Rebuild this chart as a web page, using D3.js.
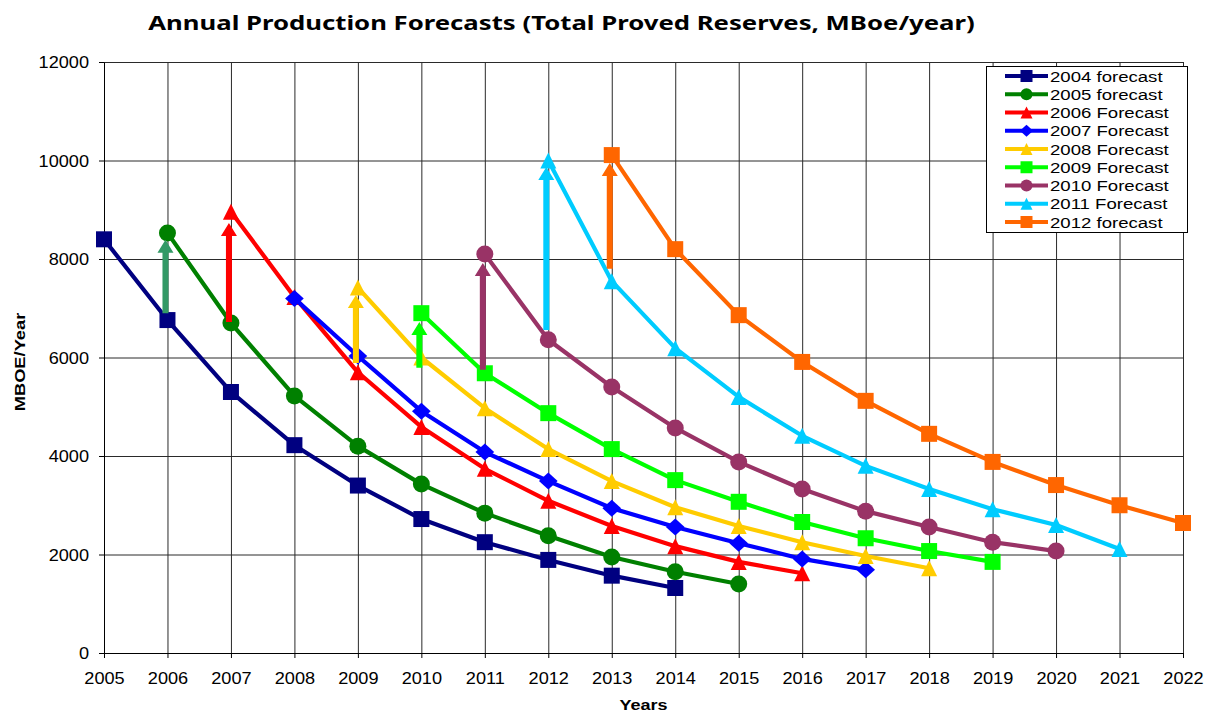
<!DOCTYPE html>
<html>
<head>
<meta charset="utf-8">
<script src="https://cdn.jsdelivr.net/npm/d3@7"></script>
<style>
  body { margin: 0; background: #fff; }
  svg { display: block; }
  text { font-family: "Liberation Sans", Arial, sans-serif; fill: #000; }
</style>
</head>
<body>
<svg id="chart" width="1206" height="712"></svg>
<script>
// ---- data -------------------------------------------------------------
const yearLabels = ["2005","2006","2007","2008","2009","2010","2011","2012","2013",
                    "2014","2015","2016","2017","2018","2019","2020","2021","2022"];
const valueTicks = [0, 2000, 4000, 6000, 8000, 10000, 12000];

const seriesNames  = ["2004 forecast","2005 forecast","2006 Forecast","2007 Forecast",
                      "2008 Forecast","2009 Forecast","2010 Forecast","2011 Forecast","2012 forecast"];
const seriesStart  = [2005, 2006, 2007, 2008, 2009, 2010, 2011, 2012, 2013];
const seriesColors = ["#000080","#008000","#ff0000","#0000ff","#ffcc00","#00ff00","#993366","#00ccff","#ff6600"];
const seriesShapes = ["square","circle","triangle","diamond","triangle","square","circle","triangle","square"];

const forecast2004 = [8400, 6760, 5300, 4220, 3400, 2720, 2250, 1890, 1570, 1320];
const forecast2005 = [8530, 6700, 5220, 4200, 3430, 2840, 2380, 1950, 1650, 1400];
const forecast2006 = [8960, 7230, 5700, 4590, 3740, 3090, 2580, 2170, 1850, 1620];
const forecast2007 = [7200, 6030, 4910, 4080, 3490, 2940, 2560, 2230, 1910, 1690];
const forecast2008 = [7420, 6000, 4970, 4140, 3490, 2960, 2580, 2250, 1970, 1720];
const forecast2009 = [6900, 5680, 4870, 4140, 3510, 3070, 2660, 2330, 2070, 1850];
const forecast2010 = [8100, 6360, 5400, 4570, 3880, 3330, 2880, 2560, 2250, 2070];
const forecast2011 = [10000, 7550, 6190, 5200, 4410, 3800, 3330, 2920, 2600, 2110];
const forecast2012 = [10110, 8200, 6860, 5910, 5120, 4450, 3880, 3410, 3000, 2640];
const seriesValues = [forecast2004, forecast2005, forecast2006, forecast2007, forecast2008,
                      forecast2009, forecast2010, forecast2011, forecast2012];

// upward revision arrows: year, value at the tail, value at the tip
const arrowYears  = [2006, 2007, 2009, 2010, 2011, 2012, 2013];
const arrowFrom   = [6900, 6720, 5890, 5790, 5750, 6560, 7800];
const arrowTo     = [8390, 8730, 7270, 6720, 7920, 9870, 9950];
const arrowColors = ["#339966","#ff0000","#ffcc00","#00ff00","#993366","#00ccff","#ff6600"];

// ---- layout -----------------------------------------------------------
const svg = d3.select("#chart");
const plot = { left: 104, right: 1183, top: 62, bottom: 653 };

const x = d3.scalePoint().domain(yearLabels).range([plot.left, plot.right]).padding(0);
const y = d3.scaleLinear().domain([0, 12000]).range([plot.bottom, plot.top]);
const xs = yr => x(String(yr));

// ---- gridlines --------------------------------------------------------
const gridColor = "#2a2a2a";
svg.append("g")
  .attr("transform", `translate(${plot.left},0)`)
  .call(d3.axisLeft(y).tickValues(valueTicks.slice(1)).tickSize(-(plot.right - plot.left)).tickFormat(""))
  .call(g => g.select(".domain").remove())
  .call(g => g.selectAll("line").attr("stroke", gridColor));

svg.append("g")
  .attr("transform", `translate(0,${plot.bottom})`)
  .call(d3.axisBottom(x).tickValues(yearLabels.slice(1)).tickSize(-(plot.bottom - plot.top)).tickFormat(""))
  .call(g => g.select(".domain").remove())
  .call(g => g.selectAll("line").attr("stroke", gridColor));

// ---- axes -------------------------------------------------------------
const yAxis = svg.append("g")
  .attr("transform", `translate(${plot.left},0)`)
  .call(d3.axisLeft(y).tickValues(valueTicks).tickFormat(d3.format("d"))
    .tickSize(5).tickSizeOuter(0).tickPadding(10));
yAxis.selectAll("path, line").attr("stroke", "#000");
yAxis.selectAll("text")
  .attr("font-size", 16.5).attr("font-family", "Liberation Sans, Arial, sans-serif")
  .attr("x", -15 / 1.1).attr("dy", "0.36em")
  .attr("transform", "scale(1.1,1)");

const xAxis = svg.append("g")
  .attr("transform", `translate(0,${plot.bottom})`)
  .call(d3.axisBottom(x).tickSize(5).tickSizeOuter(0).tickPadding(14));
xAxis.selectAll("path, line").attr("stroke", "#000");
xAxis.selectAll("text")
  .attr("font-size", 16.5).attr("font-family", "Liberation Sans, Arial, sans-serif")
  .attr("transform", "scale(1.1,1)");
xAxis.selectAll(".tick").each(function (d) {
  d3.select(this).attr("transform", `translate(${x(d) + 0.5},0)`);
});

// ---- markers ----------------------------------------------------------
function markerPath(shape, s) {
  const h = s / 2;
  switch (shape) {
    case "square":   return `M${-h},${-h}h${s}v${s}h${-s}Z`;
    case "triangle": return `M0,${-h}L${h},${h}L${-h},${h}Z`;
    case "diamond":  return `M0,${-h}L${h * 1.1},0L0,${h}L${-h * 1.1},0Z`;
    default:         return `M${h},0A${h},${h} 0 1,1 ${-h},0A${h},${h} 0 1,1 ${h},0Z`;
  }
}
const markerSize = { square: 16, circle: 17, triangle: 16, diamond: 17 };

// ---- series -----------------------------------------------------------
const series = seriesNames.map((name, i) => ({
  name,
  color: seriesColors[i],
  shape: seriesShapes[i],
  points: seriesValues[i].map((v, j) => ({ year: seriesStart[i] + j, value: v }))
}));

const line = d3.line().x(d => xs(d.year)).y(d => y(d.value));

const seriesG = svg.append("g").selectAll("g").data(series).join("g");
seriesG.append("path")
  .attr("d", d => line(d.points))
  .attr("fill", "none")
  .attr("stroke", d => d.color)
  .attr("stroke-width", 4.2)
  .attr("stroke-linejoin", "round");
seriesG.each(function (s) {
  d3.select(this).selectAll("path.mk").data(s.points).join("path")
    .attr("class", "mk")
    .attr("transform", d => `translate(${xs(d.year)},${y(d.value)})`)
    .attr("d", markerPath(s.shape, markerSize[s.shape]))
    .attr("fill", s.color);
});

// ---- revision arrows --------------------------------------------------
const shaft = 6, headW = 16, headH = 13;
svg.append("g").selectAll("path").data(arrowYears.map((yr, i) => ({
  year: yr, from: arrowFrom[i], to: arrowTo[i], color: arrowColors[i]
}))).join("path")
  .attr("d", d => {
    const cx = xs(d.year) - 2, yb = y(d.from), yt = y(d.to), hb = yt + headH;
    return `M${cx - shaft / 2},${yb}V${hb}H${cx - headW / 2}L${cx},${yt}L${cx + headW / 2},${hb}H${cx + shaft / 2}V${yb}Z`;
  })
  .attr("fill", d => d.color);

// ---- legend -----------------------------------------------------------
const legend = svg.append("g");
legend.append("rect")
  .attr("x", 986.5).attr("y", 66.5).attr("width", 201).attr("height", 166)
  .attr("fill", "#fff").attr("stroke", "#000");
const rows = legend.selectAll("g.row").data(series).join("g")
  .attr("class", "row")
  .attr("transform", (d, i) => `translate(0,${76 + i * 18.25})`);
rows.append("line")
  .attr("x1", 1005).attr("x2", 1048)
  .attr("stroke", d => d.color).attr("stroke-width", 4);
rows.append("path")
  .attr("transform", "translate(1026.5,0)")
  .attr("d", d => markerPath(d.shape, 12))
  .attr("fill", d => d.color);
rows.append("text")
  .attr("transform", "translate(1050,5.5) scale(1.24,1)")
  .attr("font-size", 15)
  .text(d => d.name);

// ---- titles -----------------------------------------------------------
const title = svg.append("text")
  .attr("text-anchor", "middle")
  .style("font-family", "'Noto Sans', 'DejaVu Sans', sans-serif")
  .attr("font-weight", "bold")
  .attr("font-size", 20)
  .text("Annual Production Forecasts (Total Proved Reserves, MBoe/year)");
const tw = title.node().getComputedTextLength();
title.attr("transform", `translate(561.5,30) scale(${827 / tw},1)`);

svg.append("text")
  .attr("text-anchor", "middle")
  .attr("font-weight", "bold").attr("font-size", 15)
  .attr("transform", "translate(24.5,362) rotate(-90) scale(1.22,1)")
  .text("MBOE/Year");

svg.append("text")
  .attr("text-anchor", "middle")
  .attr("font-weight", "bold").attr("font-size", 15)
  .attr("transform", "translate(643.5,709.5) scale(1.2,1)")
  .text("Years");
</script>
</body>
</html>
